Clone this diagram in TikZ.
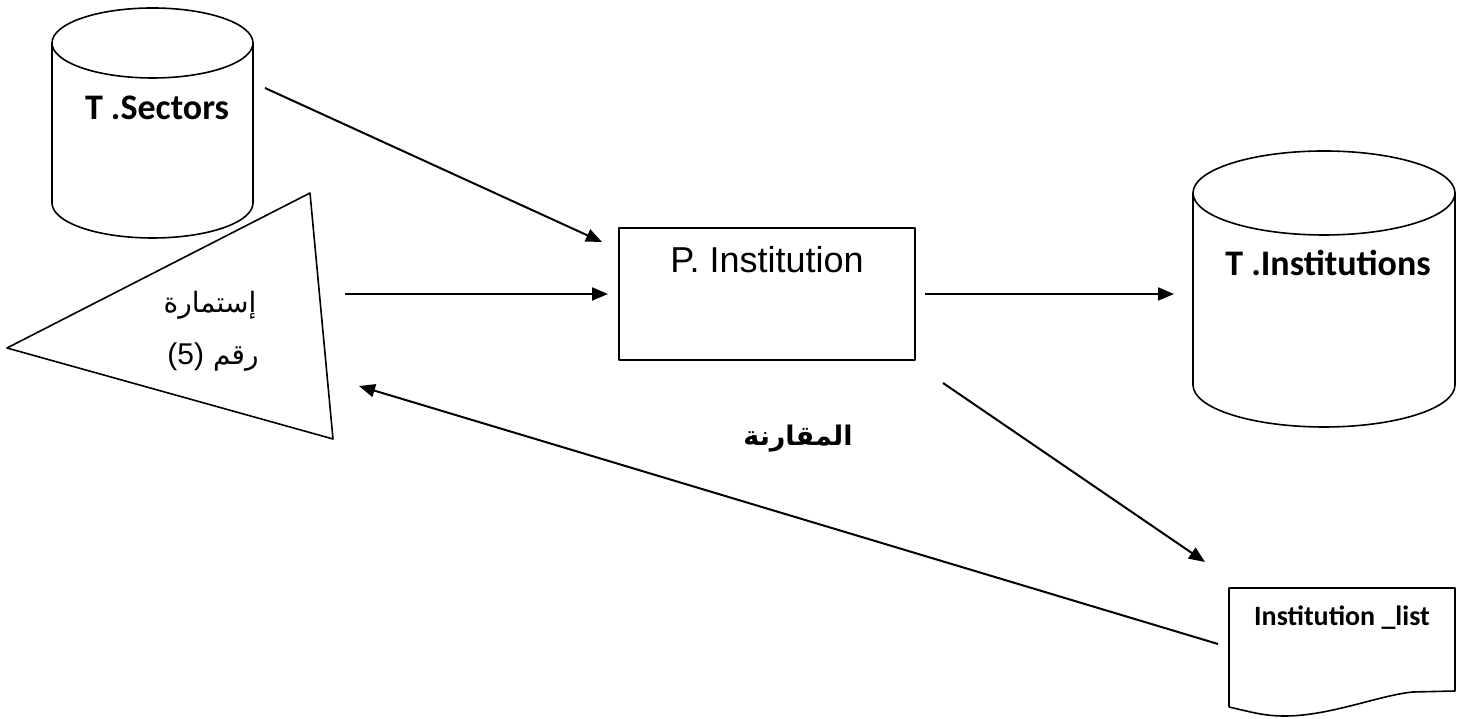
\documentclass[tikz,border=0pt]{standalone}
\usepackage{fontspec}
\setmainfont{Liberation Sans}
\newfontfamily\calibri{Carlito}
\newfontfamily\arial{Liberation Sans}
\newfontfamily\arabicfont[Script=Arabic]{DejaVu Sans}
\TeXXeTstate=1
\usetikzlibrary{arrows.meta}
\begin{document}
\begin{tikzpicture}[x=1pt,y=1pt,
  shapeline/.style={line width=1.6pt, line join=round},
  flow/.style={line width=2pt, -{Triangle[length=16pt,width=13pt]}},
  dbtext/.style={font=\calibri\bfseries\fontsize{36}{40}\selectfont, inner sep=0pt},
  doctext/.style={font=\calibri\bfseries\fontsize{28}{32}\selectfont, inner sep=0pt},
  artext/.style={font=\arabicfont\fontsize{28}{32}\selectfont, inner sep=0pt},
  lattext/.style={font=\arial\fontsize{36}{40}\selectfont, inner sep=0pt}]
\useasboundingbox (0,0) rectangle (1470,719);
\fill[white] (0,0) rectangle (1470,719);

% T.Sectors cylinder
\draw[shapeline] (152.5,676) ellipse [x radius=100.5, y radius=35];
\draw[shapeline] (52,676) -- (52,516) arc[start angle=180,end angle=360,x radius=100.5,y radius=35] -- (253,676);
\node[dbtext] (sectors) at (157,611) {T .Sectors};

% Form triangle
\draw[shapeline] (310,526) -- (7,371) -- (333,280) -- cycle;
\node[artext] (form1) at (210,414) {\beginR إستمارة\endR};
\node[artext] (form2) at (213,362) {{\arial\fontsize{30}{34}\selectfont (5)}~\beginR رقم\endR};

% Process box
\node[draw, shapeline, minimum width=296pt, minimum height=132pt, inner sep=0pt] (pbox) at (767,425) {};
\node[lattext] (ptext) at (767,459) {P. Institution};

% T.Institutions cylinder
\draw[shapeline] (1324,526) ellipse [x radius=131, y radius=42];
\draw[shapeline] (1193,526) -- (1193,334) arc[start angle=180,end angle=360,x radius=131,y radius=42] -- (1455,526);
\node[dbtext] (insts) at (1328,456) {T .Institutions};

% Document shape
\draw[shapeline] (1229,12) -- (1229,131) -- (1455,131) -- (1455,28) -- (1413,27)
  .. controls (1380,24) and (1330,3) .. (1285,3)
  .. controls (1265,3) and (1255,6) .. (1229,12);
\node[doctext] (listtext) at (1342,101) {Institution \_list};

% Comparison label
\node[font=\arabicfont\bfseries\fontsize{27}{30}\selectfont, inner sep=0pt] (cmp) at (798,280) {\beginR المقارنة\endR};

% connector end points
\coordinate (a1s) at (265,631); \coordinate (a1e) at (602,477);
\coordinate (a2s) at (345,425); \coordinate (a2e) at (608,425);
\coordinate (a3s) at (925,425); \coordinate (a3e) at (1174,425);
\coordinate (a4s) at (943,336); \coordinate (a4e) at (1205,157);
\coordinate (a5s) at (1218,75); \coordinate (a5e) at (359,333);

\draw[flow] (a1s) -- (a1e);
\draw[flow] (a2s) -- (a2e);
\draw[flow] (a3s) -- (a3e);
\draw[flow] (a4s) -- (a4e);
\draw[flow] (a5s) -- (a5e);
\end{tikzpicture}
\end{document}
